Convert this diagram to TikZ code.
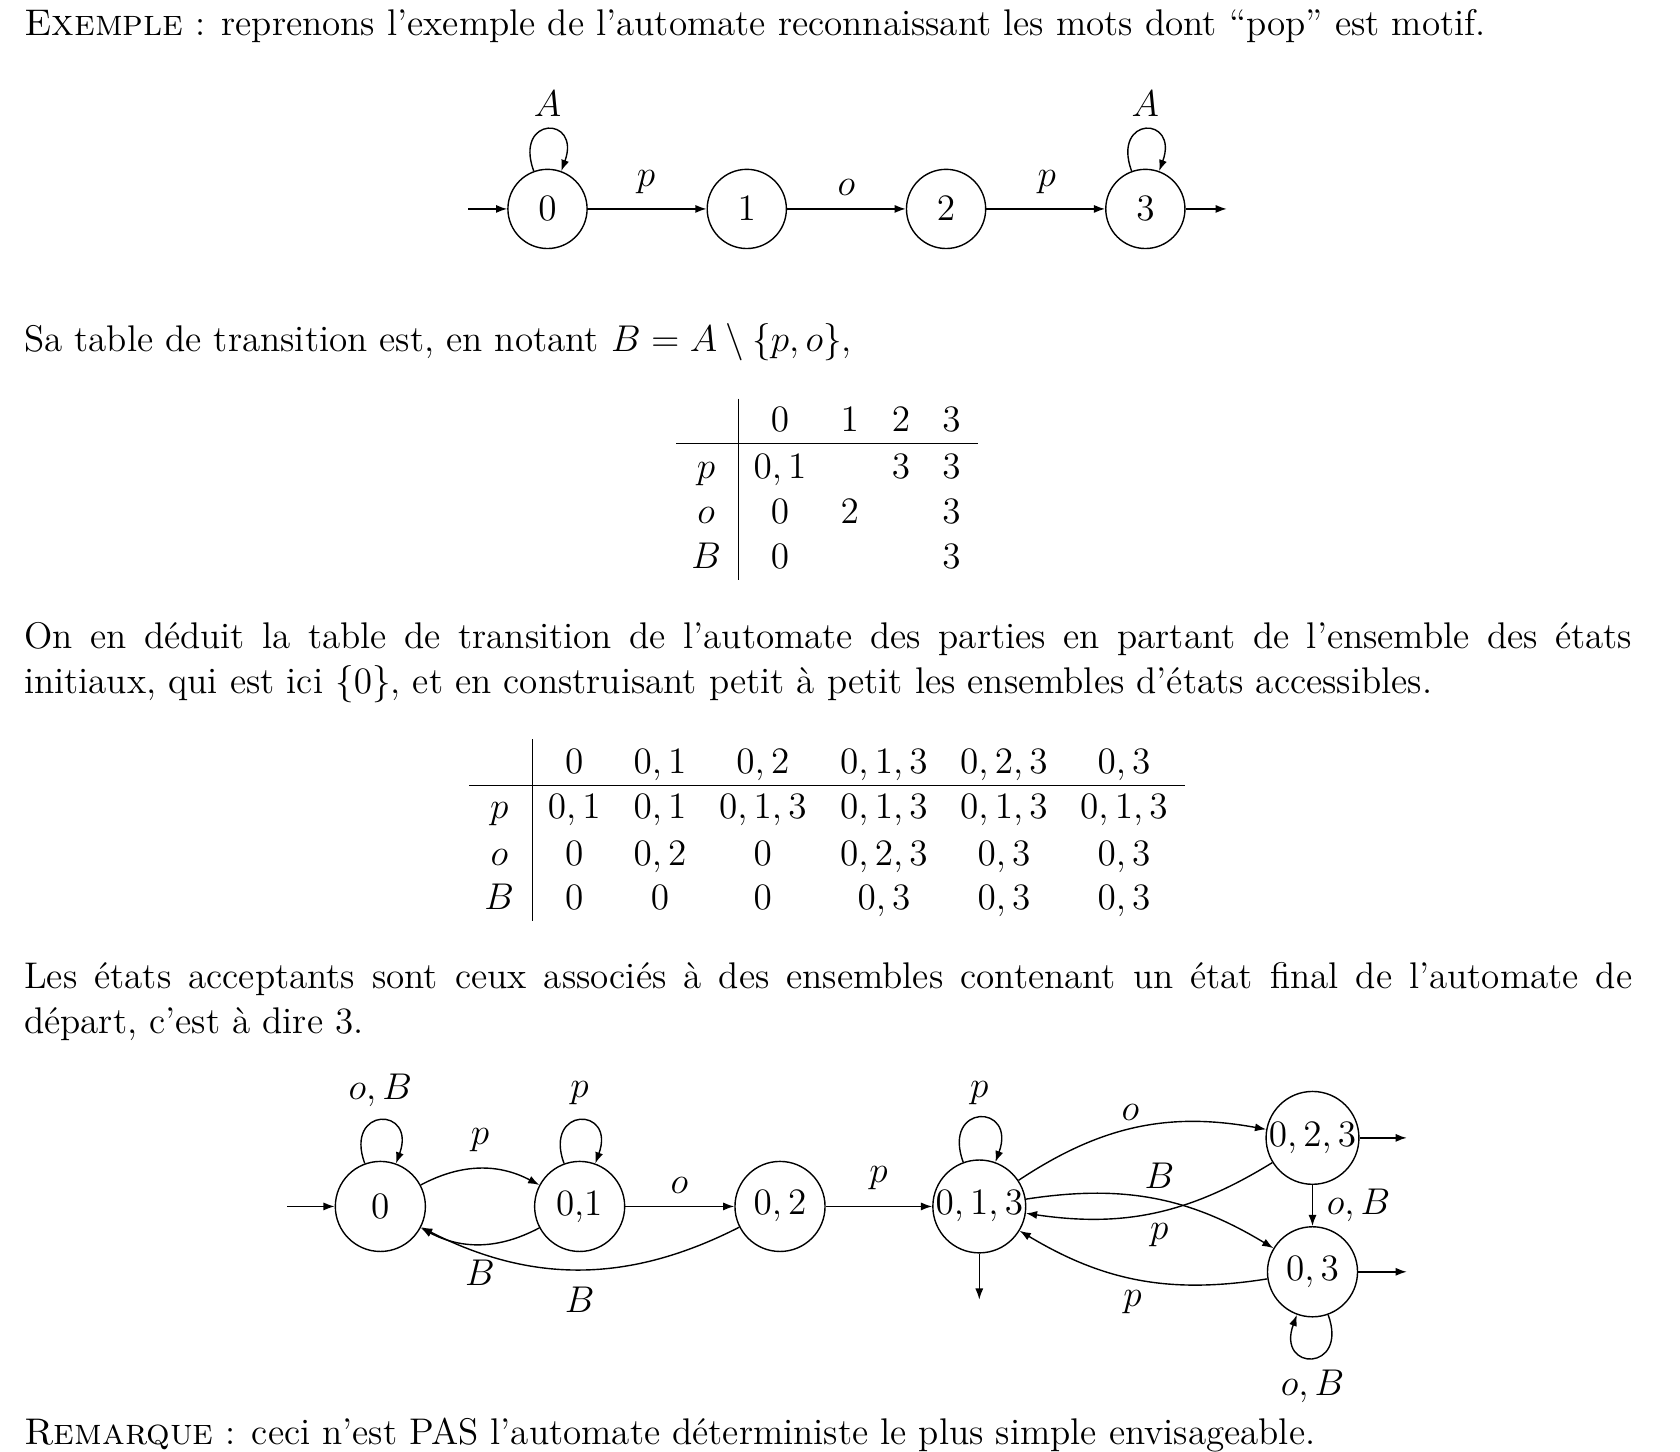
\documentclass[tikz,border=0pt]{standalone}
\usetikzlibrary{arrows.meta}
\newlength\jw
\setlength\jw{517.8pt}
\begin{document}
\begin{tikzpicture}[x=0.345pt,y=-0.345pt,
  every node/.style={font=\fontsize{11.95}{14.5}\selectfont, inner sep=0pt},
  txt/.style={anchor=base west},
  cell/.style={anchor=base},
  st/.style={draw, circle, line width=0.45pt, minimum size=25.5pt},
  stb/.style={draw, circle, line width=0.45pt, minimum size=29pt},
  arr/.style={-{Latex[length=3.6pt,width=2.6pt]}, line width=0.45pt},
  rule/.style={line width=0.45pt},
  lbl/.style={anchor=center}]
\useasboundingbox (0,0) rectangle (1568,1355);

% ---------- text lines ----------
\node[txt] (t1) at (22,33) {\textsc{Exemple} : reprenons l'exemple de l'automate reconnaissant les mots dont ``pop'' est motif.};
\node[txt] (t2) at (22,328) {Sa table de transition est, en notant $B = A\setminus\{p,o\}$,};
\node[txt] (t3) at (22,605) {\makebox[\jw][s]{On en déduit la table de transition de l'automate des parties en partant de l'ensemble des états}};
\node[txt] (t4) at (22,647) {initiaux, qui est ici $\{0\}$, et en construisant petit à petit les ensembles d'états accessibles.};
\node[txt] (t5) at (22,923) {\makebox[\jw][s]{Les états acceptants sont ceux associés à des ensembles contenant un état final de l'automate de}};
\node[txt] (t6) at (22,965) {départ, c'est à dire 3.};
\node[txt] (t7) at (22,1348) {\textsc{Remarque} : ceci n'est PAS l'automate déterministe le plus simple envisageable.};

% ---------- automaton 1 ----------
\node[st] (a0) at (511,195) {$0$};
\node[st] (a1) at (697,195) {$1$};
\node[st] (a2) at (883,195) {$2$};
\node[st] (a3) at (1069,195) {$3$};
\coordinate (ain) at (437,195);
\coordinate (aout) at (1145,195);
\draw[arr] (ain) -- (a0);
\draw[arr] (a3) -- (aout);
\draw[arr] (a0) -- (a1);
\draw[arr] (a1) -- (a2);
\draw[arr] (a2) -- (a3);
\draw[arr] (a0) to[out=110,in=70,looseness=5.5] (a0);
\draw[arr] (a3) to[out=110,in=70,looseness=5.5] (a3);
\node[lbl] (la01) at (603,170) {$p$};
\node[lbl] (la12) at (790,175) {$o$};
\node[lbl] (la23) at (977,170) {$p$};
\node[lbl] (la00) at (511,97) {$A$};
\node[lbl] (la33) at (1069,97) {$A$};

% ---------- table 1 ----------
\draw[rule] (689,372) -- (689,541);
\draw[rule] (631,414) -- (913,414);
\node[cell] (h10) at (728,403) {$0$};
\node[cell] (h11) at (793,403) {$1$};
\node[cell] (h12) at (841,403) {$2$};
\node[cell] (h13) at (888,403) {$3$};
\node[cell] (r1p) at (659,447) {$p$};
\node[cell] (r1o) at (659,489) {$o$};
\node[cell] (r1B) at (659,531) {$B$};
\node[cell] (c1p0) at (728,447) {$0,1$};
\node[cell] (c1p2) at (841,447) {$3$};
\node[cell] (c1p3) at (888,447) {$3$};
\node[cell] (c1o0) at (728,489) {$0$};
\node[cell] (c1o1) at (793,489) {$2$};
\node[cell] (c1o3) at (888,489) {$3$};
\node[cell] (c1B0) at (728,531) {$0$};
\node[cell] (c1B3) at (888,531) {$3$};

% ---------- table 2 ----------
\draw[rule] (497,690) -- (497,860);
\draw[rule] (438,733) -- (1106,733);
\foreach \x/\t [count=\i] in {536/{0}, 616/{0,1}, 712/{0,2}, 825/{0,1,3}, 937/{0,2,3}, 1049/{0,3}}
  \node[cell] (h2\i) at (\x,722) {$\t$};
\node[cell] (r2p) at (466,764) {$p$};
\node[cell] (r2o) at (466,808) {$o$};
\node[cell] (r2B) at (466,849) {$B$};
\foreach \x/\t [count=\i] in {536/{0,1}, 616/{0,1}, 712/{0,1,3}, 825/{0,1,3}, 937/{0,1,3}, 1049/{0,1,3}}
  \node[cell] (p2\i) at (\x,764) {$\t$};
\foreach \x/\t [count=\i] in {536/{0}, 616/{0,2}, 712/{0}, 825/{0,2,3}, 937/{0,3}, 1049/{0,3}}
  \node[cell] (o2\i) at (\x,808) {$\t$};
\foreach \x/\t [count=\i] in {536/{0}, 616/{0}, 712/{0}, 825/{0,3}, 937/{0,3}, 1049/{0,3}}
  \node[cell] (B2\i) at (\x,849) {$\t$};

% ---------- automaton 2 ----------
\node[stb] (b0) at (355,1126) {$0$};
\node[stb] (b01) at (541,1126) {0,1};
\node[stb] (b02) at (728,1126) {$0,2$};
\node[stb] (b013) at (914,1126) {$0,1,3$};
\node[stb] (b023) at (1225,1062) {$0,2,3$};
\node[stb] (b03) at (1225,1187) {$0,3$};
\coordinate (bin) at (268,1126);
\coordinate (bout1) at (914,1213);
\coordinate (bout2) at (1313,1062);
\coordinate (bout3) at (1313,1187);
\draw[arr] (bin) -- (b0);
\draw[arr] (b013) -- (bout1);
\draw[arr] (b023) -- (bout2);
\draw[arr] (b03) -- (bout3);
\draw[arr] (b0) to[out=110,in=70,looseness=5] (b0);
\draw[arr] (b01) to[out=110,in=70,looseness=5] (b01);
\draw[arr] (b013) to[out=110,in=70,looseness=5] (b013);
\draw[arr] (b03) to[out=-70,in=-110,looseness=5] (b03);
\draw[arr] (b0) to[bend left=28] (b01);
\draw[arr] (b01) to[bend left=28] (b0);
\draw[arr] (b02) to[bend left=27] (b0);
\draw[arr] (b01) -- (b02);
\draw[arr] (b02) -- (b013);
\draw[arr] (b013) to[bend left=22] (b023);
\draw[arr] (b023) to[bend left=20] (b013);
\draw[arr] (b013) to[bend left=20] (b03);
\draw[arr] (b03) to[bend left=20] (b013);
\draw[arr] (b023) -- (b03);
\node[lbl] (lb00) at (355,1018) {$o,B$};
\node[lbl] (lb0101) at (541,1020) {$p$};
\node[lbl] (lb001) at (448,1064) {$p$};
\node[lbl] (lb010) at (448,1188) {$B$};
\node[lbl] (lb020) at (541,1213) {$B$};
\node[lbl] (lb0102) at (634,1106) {$o$};
\node[lbl] (lb02013) at (820,1100) {$p$};
\node[lbl] (lb013013) at (914,1020) {$p$};
\node[lbl] (lb013023) at (1055,1038) {$o$};
\node[lbl] (lb023013) at (1082,1097) {$B$};
\node[lbl] (lb01303) at (1082,1153) {$p$};
\node[lbl] (lb03013) at (1057,1215) {$p$};
\node[lbl] (lb02303) at (1268,1125) {$o,B$};
\node[lbl] (lb0303) at (1225,1294) {$o,B$};
\end{tikzpicture}
\end{document}
